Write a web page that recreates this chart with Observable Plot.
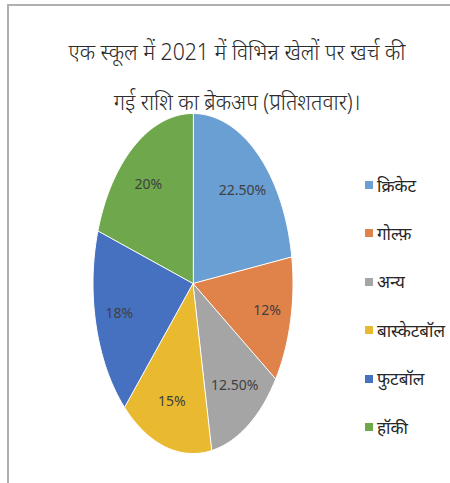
<!DOCTYPE html>
<html>
<head>
<meta charset="utf-8">
<script src="https://cdn.jsdelivr.net/npm/d3@7"></script>
<script src="https://cdn.jsdelivr.net/npm/@observablehq/plot@0.6"></script>
<style>
  html, body { margin: 0; padding: 0; background: #fff; }
  #wrap { position: relative; width: 450px; height: 483px; overflow: hidden; font-family: "Noto Sans", sans-serif; }
  #frameTop { position: absolute; left: 8px; top: 4px; width: 442px; height: 2px; background: #b0b0b0; }
  #frameLeft { position: absolute; left: 7px; top: 4px; width: 2px; height: 479px; background: #b0b0b0; }
  #title { position: absolute; left: 8px; top: 26px; width: 458px; text-align: center; font-size: 23px; line-height: 50px; color: #2b2b2b; font-weight: 300; }
  #title div { transform: scaleX(0.92); }
  #chart { position: absolute; left: 0; top: 110px; }
  #legend { position: absolute; left: 365px; top: 0; }
  .item { position: absolute; left: 0; white-space: nowrap; font-size: 17px; color: #262626; display: flex; align-items: center; }
  .sw { width: 8px; height: 8px; margin-right: 4px; }
</style>
</head>
<body>
<div id="wrap">
  <div id="frameTop"></div>
  <div id="frameLeft"></div>
  <div id="title"></div>
  <div id="chart"></div>
  <div id="legend"></div>
</div>
<script>
const titleLines = ["एक स्कूल में 2021 में विभिन्न खेलों पर खर्च की", "गई राशि का ब्रेकअप (प्रतिशतवार)।"];
const categories = ["क्रिकेट", "गोल्फ़", "अन्य", "बास्केटबॉल", "फुटबॉल", "हॉकी"];
const values = [22.5, 12, 12.5, 15, 18, 20];
const valueLabels = ["22.50%", "12%", "12.50%", "15%", "18%", "20%"];
const colors = ["#6a9fd3", "#e0834a", "#a5a5a5", "#e9b930", "#4671c1", "#6fa84c"];

document.getElementById("title").innerHTML = titleLines.map(t => `<div>${t}</div>`).join("");

// slice polygons in unit-circle coordinates, clockwise from 12 o'clock
const total = d3.sum(values);
const points = [];
const labelData = [];
let cum = 0;
categories.forEach((cat, i) => {
  const a0 = cum / total * 2 * Math.PI;
  cum += values[i];
  const a1 = cum / total * 2 * Math.PI;
  const n = Math.max(6, Math.ceil(values[i] * 3));
  points.push({cat, x: 0, y: 0});
  for (let k = 0; k <= n; k++) {
    const a = a0 + (a1 - a0) * k / n;
    points.push({cat, x: Math.sin(a), y: Math.cos(a)});
  }
  const am = (a0 + a1) / 2;
  labelData.push({cat, text: valueLabels[i], x: 0.76 * Math.sin(am), y: 0.72 * Math.cos(am)});
});

const chart = Plot.plot({
  width: 450,
  height: 373,
  margin: 0,
  x: {domain: [-1, 1], range: [92.5, 292.5], axis: null},
  y: {domain: [-1, 1], range: [343, 3], axis: null},
  color: {domain: categories, range: colors},
  marks: [
    Plot.line(points, {x: "x", y: "y", z: "cat", fill: "cat", stroke: "white", strokeWidth: 1, curve: "linear-closed"}),
    Plot.text(labelData, {x: "x", y: "y", text: "text", fontSize: 14, fill: "#404040", fontFamily: "\"Noto Sans\", sans-serif"})
  ]
});
document.getElementById("chart").appendChild(chart);

const legend = document.getElementById("legend");
categories.forEach((cat, i) => {
  const div = document.createElement("div");
  div.className = "item";
  div.style.top = (185 + i * 48.4 - 12) + "px";
  div.style.height = "24px";
  div.innerHTML = `<span class="sw" style="background:${colors[i]}"></span><span>${cat}</span>`;
  legend.appendChild(div);
});
</script>
</body>
</html>
